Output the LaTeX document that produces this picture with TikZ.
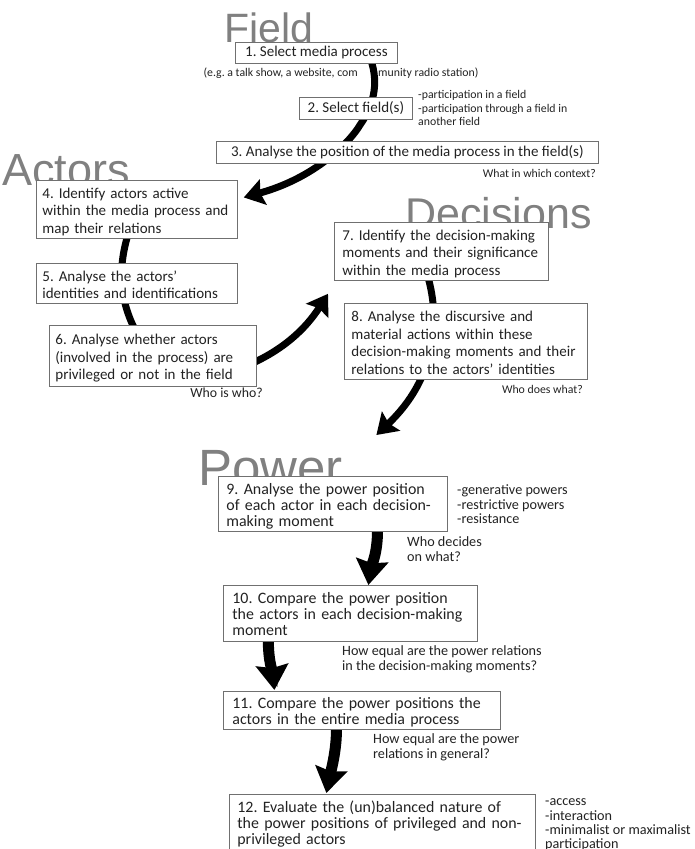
\documentclass[tikz,border=0pt]{standalone}
\usepackage{fontspec}
\setmainfont{Carlito}
\newfontfamily\headfont{Liberation Sans}
\usetikzlibrary{arrows.meta}
\pgfdeclarelayer{background}
\pgfsetlayers{background,main}
\definecolor{headgray}{HTML}{808080}
\definecolor{boxline}{HTML}{707070}
\definecolor{txt}{HTML}{222222}
\newcommand{\boxlines}[1]{\raisebox{0pt}[\height][\dimexpr\depth-6pt\relax]{\begin{tabular}{@{}l@{}}#1\end{tabular}}}
\begin{document}
\frenchspacing
\begin{tikzpicture}[x=1pt,y=-1pt,
  stepbox/.style={draw=boxline, line width=0.8pt, fill=white, inner ysep=0pt,
    anchor=north west, align=left, text=txt, font=\fontsize{15}{17.5}\selectfont},
  onebox/.style={stepbox, align=center, inner xsep=0pt},
  lowbox/.style={stepbox, font=\fontsize{15.9}{16}\selectfont},
  note/.style={anchor=north west, inner sep=0pt, align=left, text=txt, font=\fontsize{11.8}{13.5}\selectfont},
  lownote/.style={note, font=\fontsize{14.2}{14}\selectfont},
  heading/.style={anchor=base west, inner sep=0pt, text=headgray},
  flow/.style={line width=7pt, -{Stealth[length=20pt,width=26pt,inset=3pt]}},
  link/.style={line width=7pt},
  bigflow/.style={line width=11pt, -{Stealth[length=25pt,width=32pt,inset=3pt]}}
]
\useasboundingbox (0,0) rectangle (695,849);

% boxes
\node[onebox, minimum width=162pt, minimum height=21pt] (b1) at (235,42) {1. Select media process};
\node[onebox, minimum width=113pt, minimum height=22pt] (b2) at (299,97) {2. Select field(s)};
\node[onebox, minimum width=382pt, minimum height=22pt] (b3) at (216,141) {3. Analyse the position of the media process in the field(s)};
\node[stepbox, inner xsep=6pt, text width=189pt, minimum height=58pt] (b4) at (36,180) {\boxlines{4. Identify actors active\\within the media process and\\map their relations}};
\node[stepbox, inner xsep=6pt, text width=189pt, minimum height=40pt] (b5) at (36,263) {\boxlines{5. Analyse the actors’\\identities and identifications}};
\node[stepbox, inner xsep=6pt, text width=195pt, minimum height=61pt] (b6) at (49,325) {\boxlines{6. Analyse whether actors\\(involved in the process) are\\privileged or not in the field}};
\node[stepbox, inner xsep=8pt, text width=198pt, minimum height=58pt] (b7) at (334,222) {\boxlines{7. Identify the decision-making\\moments and their significance\\within the media process}};
\node[stepbox, inner xsep=7pt, text width=229pt, minimum height=76pt] (b8) at (344,303) {\boxlines{8. Analyse the discursive and\\material actions within these\\decision-making moments and their\\relations to the actors’ identities}};
\node[lowbox, inner xsep=8pt, text width=213pt, minimum height=55pt] (b9) at (218,476) {\boxlines{9. Analyse the power position\\of each actor in each decision-\\making moment}};
\node[lowbox, inner xsep=9pt, text width=236pt, minimum height=56pt] (b10) at (223,585) {\boxlines{10. Compare the power position\\the actors in each decision-making\\moment}};
\node[lowbox, inner xsep=9pt, text width=259pt, minimum height=38pt] (b11) at (223,691) {\boxlines{11. Compare the power positions the\\actors in the entire media process}};
\node[lowbox, inner xsep=8pt, text width=290pt, minimum height=56pt] (b12) at (229,794) {\boxlines{12. Evaluate the (un)balanced nature of\\the power positions of privileged and non-\\privileged actors}};

% notes
\node[note, anchor=base east] (n1a) at (358,76) {(e.g. a talk show, a website, com};
\node[note, anchor=base west] (n1b) at (378,76) {munity radio station)};
\node[note] (n2) at (418,89.3) {\strut-participation in a field\\-participation through a field in\\another field};
\node[note, anchor=base east] (n3) at (596,177.5) {What in which context?};
\node[note, anchor=base east, font=\fontsize{13.8}{14}\selectfont] (n6) at (263,397.5) {Who is who?};
\node[note, anchor=base east] (n8) at (583,393.5) {Who does what?};
\node[lownote] (n9) at (457,484.5) {\strut-generative powers\\-restrictive powers\\-resistance};
\node[lownote] (n9b) at (407,536.5) {\strut Who decides\\on what?};
\node[lownote] (n10) at (342,645.5) {\strut How equal are the power relations\\in the decision-making moments?};
\node[lownote] (n11) at (373,733.5) {\strut How equal are the power\\relations in general?};
\node[lownote] (n12) at (545,795.5) {\strut-access\\-interaction\\-minimalist or maximalist\\participation};

\begin{pgfonlayer}{background}
  \node[heading, font=\headfont\fontsize{41}{41}\selectfont] (hField) at (224,42.5) {Field};
  \node[heading, font=\headfont\fontsize{45}{45}\selectfont] (hActors) at (2,185) {Actors};
  \node[heading, font=\headfont\fontsize{43}{43}\selectfont] (hDecisions) at (405,228) {Decisions};
  \node[heading, font=\headfont\fontsize{51}{51}\selectfont] (hPower) at (198,485) {Power};

  \draw[flow] ([shift={(54,-5)}]b1.south) .. controls (380,85) and (372,108) .. (360,125)
     .. controls (350,142) and (315,178) .. ([shift={(6,-12)}]b4.east);
  \draw[link] ([shift={(-6,-13)}]b4.south) .. controls (118,262) and (116,300) .. ([shift={(-12,15)}]b6.north);
  \draw[flow] ([shift={(-6,8)}]b6.east) .. controls (282,350) and (305,330) .. ([shift={(-6,13)}]b7.south west);
  \draw[flow] ([shift={(-21,-25)}]b7.south) .. controls (440,300) and (445,370) .. ([shift={(43.5,-41)}]b9.north);
  \draw[bigflow] ([shift={(44.5,-2)}]b9.south) .. controls (378,552) and (371,568) .. ([xshift=18pt]b10.north);
  \draw[bigflow] ([shift={(-82,-2)}]b10.south) .. controls (268,660) and (273,675) .. ([shift={(-87.5,-1)}]b11.north);
  \draw[bigflow] ([shift={(-25.5,-2)}]b11.south) .. controls (337,750) and (330,775) .. ([shift={(-56,-1)}]b12.north);
\end{pgfonlayer}
\end{tikzpicture}
\end{document}
